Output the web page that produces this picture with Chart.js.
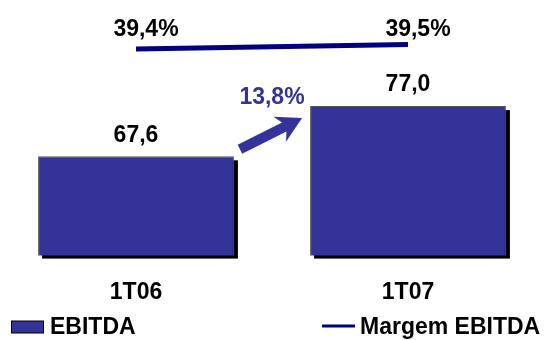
<!DOCTYPE html>
<html>
<head>
<meta charset="utf-8">
<script src="https://cdn.jsdelivr.net/npm/chart.js@4.4.1/dist/chart.umd.min.js"></script>
<style>
  html, body { margin: 0; padding: 0; background: #fff; }
</style>
</head>
<body>
<canvas id="myChart" width="544" height="340"></canvas>
<script>
const categorias = ['1T06', '1T07']
const ebitda = [67.6, 77.0]
const margem = [39.4, 39.5]
const ebitdaLabels = ['67,6', '77,0']
const margemLabels = ['39,4%', '39,5%']
const crescimento = '13,8%'

const azul = '#333399'
const marinho = '#000080'
const fonte = 'bold 23px "Liberation Sans", Arial, sans-serif'

// sombra das barras, rótulos, seta e legenda
const extras = {
  id: 'extras',
  beforeDatasetsDraw (chart) {
    const ctx = chart.ctx
    const fundo = chart.chartArea.bottom
    ctx.save()
    ctx.fillStyle = '#000'
    chart.getDatasetMeta(0).data.forEach((bar) => {
      const w = bar.width
      ctx.fillRect(bar.x - w / 2 + 4, bar.y + 4, w, fundo - bar.y - 1)
    })
    ctx.restore()
  },
  afterDraw (chart) {
    const ctx = chart.ctx
    const area = chart.chartArea
    const barras = chart.getDatasetMeta(0).data
    const pontos = chart.getDatasetMeta(1).data

    ctx.save()
    ctx.font = fonte
    ctx.textAlign = 'center'
    ctx.textBaseline = 'middle'
    ctx.fillStyle = '#000'

    barras.forEach((bar, i) => {
      ctx.fillText(ebitdaLabels[i], bar.x, bar.y - 21)
    })

    const topo = Math.min(...pontos.map((p) => p.y)) - 15
    pontos.forEach((p, i) => {
      ctx.fillText(margemLabels[i], p.x + 10, topo)
    })

    categorias.forEach((cat, i) => {
      ctx.fillText(cat, chart.scales.x.getPixelForValue(i), area.bottom + 37)
    })

    // seta de crescimento
    const b1 = barras[0]
    const b2 = barras[1]
    const x0 = b1.x + b1.width / 2 + 6
    const y0 = b1.y - 7
    const x1 = b2.x - b2.width / 2 - 8
    const y1 = b2.y + 12
    const ang = Math.atan2(y1 - y0, x1 - x0)
    const len = Math.hypot(x1 - x0, y1 - y0)
    ctx.save()
    ctx.translate(x0, y0)
    ctx.rotate(ang)
    ctx.fillStyle = azul
    ctx.beginPath()
    ctx.moveTo(0, -5)
    ctx.lineTo(len - 20, -5)
    ctx.lineTo(len - 25, -14)
    ctx.lineTo(len, 0)
    ctx.lineTo(len - 25, 14)
    ctx.lineTo(len - 20, 5)
    ctx.lineTo(0, 5)
    ctx.closePath()
    ctx.fill()
    ctx.restore()

    ctx.fillStyle = azul
    ctx.fillText(crescimento, (x0 + x1) / 2 + 1, y1 - 20)

    // legenda
    const ly = 327
    ctx.fillStyle = azul
    ctx.fillRect(11.5, ly - 6, 32, 12)
    ctx.strokeStyle = '#000'
    ctx.lineWidth = 1
    ctx.strokeRect(11.5, ly - 6, 32, 12)
    ctx.strokeStyle = marinho
    ctx.lineWidth = 3
    ctx.beginPath()
    ctx.moveTo(322, ly - 1)
    ctx.lineTo(355, ly - 1)
    ctx.stroke()
    ctx.fillStyle = '#000'
    ctx.textAlign = 'left'
    ctx.fillText(chart.data.datasets[0].label, 50, ly + 1)
    ctx.fillText(chart.data.datasets[1].label, 360, ly + 1)
    ctx.restore()
  }
}

const ctx = document.getElementById('myChart').getContext('2d')
const myChart = new Chart(ctx, {
  type: 'bar',
  data: {
    labels: categorias,
    datasets: [
      {
        label: 'EBITDA',
        data: ebitda,
        backgroundColor: azul,
        borderColor: '#555',
        borderWidth: 1,
        barPercentage: 0.72,
        categoryPercentage: 1,
        yAxisID: 'y',
        order: 2
      },
      {
        type: 'line',
        label: 'Margem EBITDA',
        data: margem,
        borderColor: marinho,
        borderWidth: 5,
        pointRadius: 0,
        tension: 0,
        yAxisID: 'y1',
        order: 1
      }
    ]
  },
  options: {
    responsive: false,
    animation: false,
    layout: {
      padding: { top: 10, bottom: 84.4, left: 0, right: 0 }
    },
    plugins: {
      legend: { display: false },
      tooltip: { enabled: false }
    },
    scales: {
      x: { display: false },
      y: { display: false, min: 49, max: 95 },
      y1: { display: false, min: 34.9, max: 40.25 }
    }
  },
  plugins: [extras]
})
</script>
</body>
</html>
